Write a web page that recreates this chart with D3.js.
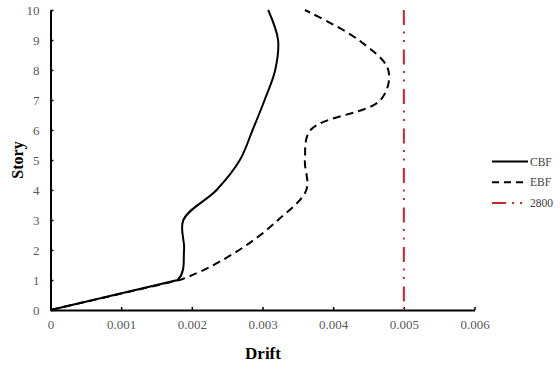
<!DOCTYPE html>
<html><head><meta charset="utf-8">
<script src="https://cdn.jsdelivr.net/npm/d3@7"></script>
<style>body{margin:0;background:#fff}svg{display:block}</style>
</head><body>
<svg id="c" width="560" height="367"></svg>
<script>
const stories = [0,1,2,3,4,5,6,7,8,9,10];
const cbf = [0,0.0018,0.00189,0.00188,0.00235,0.00268,0.00286,0.00303,0.00318,0.00322,0.00308];
const ebf = [0,0.00183,0.00267,0.00322,0.00362,0.0036,0.00368,0.00467,0.00478,0.00436,0.0036];
const limitValue = 0.005;
const xTicks = [0,0.001,0.002,0.003,0.004,0.005,0.006];
const yTicks = [0,1,2,3,4,5,6,7,8,9,10];
const legendLabels = ["CBF","EBF","2800"];

const svg = d3.select("#c");
const x = d3.scaleLinear().domain([0,0.006]).range([50.5,474.5]);
const y = d3.scaleLinear().domain([0,10]).range([310,10]);
const font = "'Liberation Serif','Times New Roman',serif";

// axes
const xa = svg.append("g").attr("transform","translate(0,310)")
  .call(d3.axisBottom(x).tickValues(xTicks).tickSizeInner(-3).tickSizeOuter(0).tickPadding(10)
    .tickFormat(d => d===0 ? "0" : d3.format(".3f")(d)));
const ya = svg.append("g").attr("transform","translate(50.5,0)")
  .call(d3.axisLeft(y).tickValues(yTicks).tickSizeInner(-3).tickSizeOuter(0).tickPadding(11));
[xa,ya].forEach(g=>{
  g.attr("font-size",null);
  g.select(".domain").attr("stroke","#000").attr("stroke-width",2);
  g.selectAll(".tick line").attr("stroke","#000").attr("stroke-width",1.5);
  g.selectAll("text").attr("font-family",font).style("font-size","13px").attr("fill","#595959");
});

// smoothed line, with the first segment (story 0 to 1) drawn straight
const line = (vals) => {
  const pts = vals.map((v,i)=>[x(v),y(stories[i])]);
  const full = d3.line().curve(d3.curveCatmullRom.alpha(0.5))(pts);
  const parts = full.split("C");
  const first = parts[1].split(",");
  parts[1] = "L" + first[4] + "," + first[5];
  return parts[0] + parts[1] + parts.slice(2).map(s=>"C"+s).join("");
};

svg.append("path").attr("d",line(ebf)).attr("fill","none").attr("stroke","#000").attr("stroke-width",2).attr("stroke-dasharray","8,5");
svg.append("path").attr("d",line(cbf)).attr("fill","none").attr("stroke","#000").attr("stroke-width",2);
svg.append("line").attr("x1",x(limitValue)).attr("x2",x(limitValue)).attr("y1",y(10)).attr("y2",y(0))
  .attr("stroke","#c0282d").attr("stroke-width",2).attr("stroke-dasharray","15,6.5,2,6.5,2,7.5");

// titles
svg.append("text").attr("x",263).attr("y",359).attr("text-anchor","middle")
  .attr("font-family",font).style("font-size","17px").attr("font-weight","bold").text("Drift");
svg.append("text").attr("transform","translate(23,160) rotate(-90)").attr("text-anchor","middle")
  .attr("font-family",font).style("font-size","16px").attr("font-weight","bold").text("Story");

// legend
const lg = svg.append("g");
const styles = [{c:"#000",d:null},{c:"#000",d:"7,5"},{c:"#c0282d",d:"14,6,2,6,2,6"}];
legendLabels.forEach((t,i)=>{
  const yy = 161.5 + i*20.7;
  lg.append("line").attr("x1",492).attr("x2",528).attr("y1",yy).attr("y2",yy)
    .attr("stroke",styles[i].c).attr("stroke-width",2).attr("stroke-dasharray",styles[i].d);
  lg.append("text").attr("x",530).attr("y",yy+4).attr("font-family",font).style("font-size","11.5px")
    .attr("fill","#404040").text(t);
});
</script>
</body></html>
